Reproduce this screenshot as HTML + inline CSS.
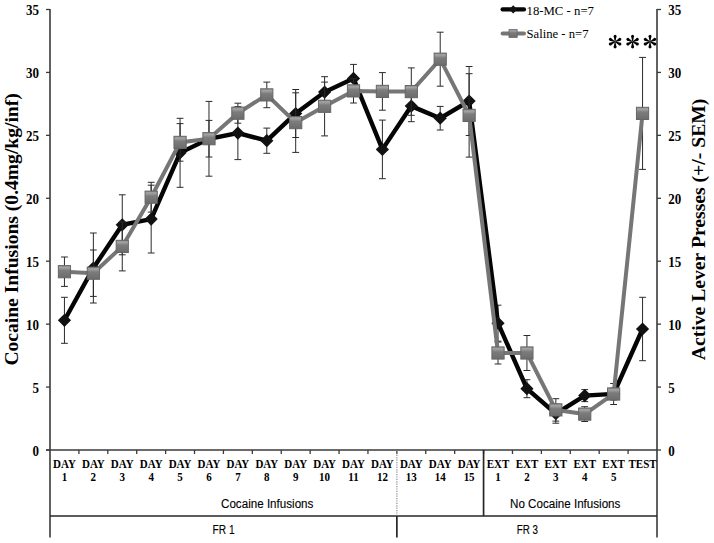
<!DOCTYPE html>
<html><head><meta charset="utf-8"><style>
html,body{margin:0;padding:0;background:#fff;}
body{width:714px;height:543px;overflow:hidden;font-family:"Liberation Serif",serif;}
svg{display:block;}
</style></head><body>
<svg width="714" height="543" viewBox="0 0 714 543" shape-rendering="geometricPrecision">
<defs><linearGradient id="sq" x1="0" y1="0" x2="0" y2="1"><stop offset="0" stop-color="#8a8a8a"/><stop offset="0.15" stop-color="#a4a4a4"/><stop offset="0.4" stop-color="#7c7c7c"/><stop offset="1" stop-color="#6c6c6c"/></linearGradient></defs>
<g stroke="#3a3a3a" stroke-width="1.6" fill="none">
<line x1="50.0" y1="9.0" x2="50.0" y2="537.5"/>
<line x1="657.0" y1="9.0" x2="657.0" y2="537.5"/>
<line x1="46.0" y1="450.0" x2="657.0" y2="450.0"/>
</g>
<g stroke="#3a3a3a" stroke-width="1.3">
<line x1="46.0" y1="450.00" x2="50.0" y2="450.00"/>
<line x1="657.0" y1="450.00" x2="661.0" y2="450.00"/>
<line x1="46.0" y1="387.07" x2="50.0" y2="387.07"/>
<line x1="657.0" y1="387.07" x2="661.0" y2="387.07"/>
<line x1="46.0" y1="324.14" x2="50.0" y2="324.14"/>
<line x1="657.0" y1="324.14" x2="661.0" y2="324.14"/>
<line x1="46.0" y1="261.21" x2="50.0" y2="261.21"/>
<line x1="657.0" y1="261.21" x2="661.0" y2="261.21"/>
<line x1="46.0" y1="198.29" x2="50.0" y2="198.29"/>
<line x1="657.0" y1="198.29" x2="661.0" y2="198.29"/>
<line x1="46.0" y1="135.36" x2="50.0" y2="135.36"/>
<line x1="657.0" y1="135.36" x2="661.0" y2="135.36"/>
<line x1="46.0" y1="72.43" x2="50.0" y2="72.43"/>
<line x1="657.0" y1="72.43" x2="661.0" y2="72.43"/>
<line x1="46.0" y1="9.50" x2="50.0" y2="9.50"/>
<line x1="657.0" y1="9.50" x2="661.0" y2="9.50"/>
<line x1="78.90" y1="450.0" x2="78.90" y2="454.0"/>
<line x1="107.81" y1="450.0" x2="107.81" y2="454.0"/>
<line x1="136.71" y1="450.0" x2="136.71" y2="454.0"/>
<line x1="165.62" y1="450.0" x2="165.62" y2="454.0"/>
<line x1="194.52" y1="450.0" x2="194.52" y2="454.0"/>
<line x1="223.43" y1="450.0" x2="223.43" y2="454.0"/>
<line x1="252.33" y1="450.0" x2="252.33" y2="454.0"/>
<line x1="281.24" y1="450.0" x2="281.24" y2="454.0"/>
<line x1="310.14" y1="450.0" x2="310.14" y2="454.0"/>
<line x1="339.05" y1="450.0" x2="339.05" y2="454.0"/>
<line x1="367.95" y1="450.0" x2="367.95" y2="454.0"/>
<line x1="396.86" y1="450.0" x2="396.86" y2="454.0"/>
<line x1="425.76" y1="450.0" x2="425.76" y2="454.0"/>
<line x1="454.67" y1="450.0" x2="454.67" y2="454.0"/>
<line x1="483.57" y1="450.0" x2="483.57" y2="454.0"/>
<line x1="512.48" y1="450.0" x2="512.48" y2="454.0"/>
<line x1="541.38" y1="450.0" x2="541.38" y2="454.0"/>
<line x1="570.29" y1="450.0" x2="570.29" y2="454.0"/>
<line x1="599.19" y1="450.0" x2="599.19" y2="454.0"/>
<line x1="628.10" y1="450.0" x2="628.10" y2="454.0"/>
</g>
<g stroke="#262626" stroke-width="1.7">
<line x1="50.0" y1="516" x2="657.0" y2="516"/>
<line x1="483.57" y1="450.0" x2="483.57" y2="516"/>
<line x1="396.86" y1="516" x2="396.86" y2="537.5"/>
</g>
<line x1="396.86" y1="450.0" x2="396.86" y2="515.5" stroke="#8a8a8a" stroke-width="1.2" stroke-dasharray="1.2 1.2"/>
<g font-family="Liberation Serif, serif" font-weight="bold" font-size="13" fill="#000">
<text transform="translate(38.9,455.80) scale(1,1.13)" text-anchor="end">0</text>
<text transform="translate(668.2,455.60) scale(1,1.13)">0</text>
<text transform="translate(38.9,392.87) scale(1,1.13)" text-anchor="end">5</text>
<text transform="translate(668.2,392.67) scale(1,1.13)">5</text>
<text transform="translate(38.9,329.94) scale(1,1.13)" text-anchor="end">10</text>
<text transform="translate(668.2,329.74) scale(1,1.13)">10</text>
<text transform="translate(38.9,267.01) scale(1,1.13)" text-anchor="end">15</text>
<text transform="translate(668.2,266.81) scale(1,1.13)">15</text>
<text transform="translate(38.9,204.09) scale(1,1.13)" text-anchor="end">20</text>
<text transform="translate(668.2,203.89) scale(1,1.13)">20</text>
<text transform="translate(38.9,141.16) scale(1,1.13)" text-anchor="end">25</text>
<text transform="translate(668.2,140.96) scale(1,1.13)">25</text>
<text transform="translate(38.9,78.23) scale(1,1.13)" text-anchor="end">30</text>
<text transform="translate(668.2,78.03) scale(1,1.13)">30</text>
<text transform="translate(38.9,15.30) scale(1,1.13)" text-anchor="end">35</text>
<text transform="translate(668.2,15.10) scale(1,1.13)">35</text>
</g>
<g font-family="Liberation Serif, serif" font-weight="bold" font-size="11" fill="#000" text-anchor="middle">
<text transform="translate(64.45,468.0) scale(1,1.07)">DAY</text>
<text transform="translate(64.45,481.3) scale(1,1.07)">1</text>
<text transform="translate(93.36,468.0) scale(1,1.07)">DAY</text>
<text transform="translate(93.36,481.3) scale(1,1.07)">2</text>
<text transform="translate(122.26,468.0) scale(1,1.07)">DAY</text>
<text transform="translate(122.26,481.3) scale(1,1.07)">3</text>
<text transform="translate(151.17,468.0) scale(1,1.07)">DAY</text>
<text transform="translate(151.17,481.3) scale(1,1.07)">4</text>
<text transform="translate(180.07,468.0) scale(1,1.07)">DAY</text>
<text transform="translate(180.07,481.3) scale(1,1.07)">5</text>
<text transform="translate(208.98,468.0) scale(1,1.07)">DAY</text>
<text transform="translate(208.98,481.3) scale(1,1.07)">6</text>
<text transform="translate(237.88,468.0) scale(1,1.07)">DAY</text>
<text transform="translate(237.88,481.3) scale(1,1.07)">7</text>
<text transform="translate(266.79,468.0) scale(1,1.07)">DAY</text>
<text transform="translate(266.79,481.3) scale(1,1.07)">8</text>
<text transform="translate(295.69,468.0) scale(1,1.07)">DAY</text>
<text transform="translate(295.69,481.3) scale(1,1.07)">9</text>
<text transform="translate(324.60,468.0) scale(1,1.07)">DAY</text>
<text transform="translate(324.60,481.3) scale(1,1.07)">10</text>
<text transform="translate(353.50,468.0) scale(1,1.07)">DAY</text>
<text transform="translate(353.50,481.3) scale(1,1.07)">11</text>
<text transform="translate(382.40,468.0) scale(1,1.07)">DAY</text>
<text transform="translate(382.40,481.3) scale(1,1.07)">12</text>
<text transform="translate(411.31,468.0) scale(1,1.07)">DAY</text>
<text transform="translate(411.31,481.3) scale(1,1.07)">13</text>
<text transform="translate(440.21,468.0) scale(1,1.07)">DAY</text>
<text transform="translate(440.21,481.3) scale(1,1.07)">14</text>
<text transform="translate(469.12,468.0) scale(1,1.07)">DAY</text>
<text transform="translate(469.12,481.3) scale(1,1.07)">15</text>
<text transform="translate(498.02,468.0) scale(1,1.07)">EXT</text>
<text transform="translate(498.02,481.3) scale(1,1.07)">1</text>
<text transform="translate(526.93,468.0) scale(1,1.07)">EXT</text>
<text transform="translate(526.93,481.3) scale(1,1.07)">2</text>
<text transform="translate(555.83,468.0) scale(1,1.07)">EXT</text>
<text transform="translate(555.83,481.3) scale(1,1.07)">3</text>
<text transform="translate(584.74,468.0) scale(1,1.07)">EXT</text>
<text transform="translate(584.74,481.3) scale(1,1.07)">4</text>
<text transform="translate(613.64,468.0) scale(1,1.07)">EXT</text>
<text transform="translate(613.64,481.3) scale(1,1.07)">5</text>
<text transform="translate(642.55,468.0) scale(1,1.07)">TEST</text>
</g>
<g font-family="Liberation Sans, sans-serif" font-size="12" fill="#000" stroke="#000" stroke-width="0.12">
<text x="221" y="508" textLength="92.4" lengthAdjust="spacingAndGlyphs">Cocaine Infusions</text>
<text x="510" y="508" textLength="110.4" lengthAdjust="spacingAndGlyphs">No Cocaine Infusions</text>
<text x="212.6" y="534" textLength="22" lengthAdjust="spacingAndGlyphs">FR 1</text>
<text x="516.8" y="534" textLength="21.3" lengthAdjust="spacingAndGlyphs">FR 3</text>
</g>
<text font-family="Liberation Serif, serif" font-weight="bold" font-size="18.5" fill="#000" transform="translate(18.2,365.6) rotate(-90)" textLength="272.4" lengthAdjust="spacingAndGlyphs">Cocaine Infusions (0.4mg/kg/inf)</text>
<text font-family="Liberation Serif, serif" font-weight="bold" font-size="18" fill="#000" transform="translate(704.6,360.2) rotate(-90)" textLength="261.6" lengthAdjust="spacingAndGlyphs">Active Lever Presses (+/- SEM)</text>
<g stroke="#2a2a2a" stroke-width="1">
<line x1="64.45" y1="297.30" x2="64.45" y2="343.30"/>
<line x1="61.05" y1="297.30" x2="67.85" y2="297.30"/>
<line x1="61.05" y1="343.30" x2="67.85" y2="343.30"/>
<line x1="93.36" y1="233.00" x2="93.36" y2="303.00"/>
<line x1="89.96" y1="233.00" x2="96.76" y2="233.00"/>
<line x1="89.96" y1="303.00" x2="96.76" y2="303.00"/>
<line x1="122.26" y1="194.80" x2="122.26" y2="254.80"/>
<line x1="118.86" y1="194.80" x2="125.66" y2="194.80"/>
<line x1="118.86" y1="254.80" x2="125.66" y2="254.80"/>
<line x1="151.17" y1="185.20" x2="151.17" y2="253.00"/>
<line x1="147.77" y1="185.20" x2="154.57" y2="185.20"/>
<line x1="147.77" y1="253.00" x2="154.57" y2="253.00"/>
<line x1="180.07" y1="118.30" x2="180.07" y2="187.30"/>
<line x1="176.67" y1="118.30" x2="183.47" y2="118.30"/>
<line x1="176.67" y1="187.30" x2="183.47" y2="187.30"/>
<line x1="208.98" y1="101.40" x2="208.98" y2="176.20"/>
<line x1="205.58" y1="101.40" x2="212.38" y2="101.40"/>
<line x1="205.58" y1="176.20" x2="212.38" y2="176.20"/>
<line x1="237.88" y1="106.60" x2="237.88" y2="159.60"/>
<line x1="234.48" y1="106.60" x2="241.28" y2="106.60"/>
<line x1="234.48" y1="159.60" x2="241.28" y2="159.60"/>
<line x1="266.79" y1="128.10" x2="266.79" y2="153.30"/>
<line x1="263.39" y1="128.10" x2="270.19" y2="128.10"/>
<line x1="263.39" y1="153.30" x2="270.19" y2="153.30"/>
<line x1="295.69" y1="89.50" x2="295.69" y2="137.50"/>
<line x1="292.29" y1="89.50" x2="299.09" y2="89.50"/>
<line x1="292.29" y1="137.50" x2="299.09" y2="137.50"/>
<line x1="324.60" y1="82.10" x2="324.60" y2="102.10"/>
<line x1="321.20" y1="82.10" x2="328.00" y2="82.10"/>
<line x1="321.20" y1="102.10" x2="328.00" y2="102.10"/>
<line x1="353.50" y1="64.40" x2="353.50" y2="92.40"/>
<line x1="350.10" y1="64.40" x2="356.90" y2="64.40"/>
<line x1="350.10" y1="92.40" x2="356.90" y2="92.40"/>
<line x1="382.40" y1="120.10" x2="382.40" y2="178.70"/>
<line x1="379.00" y1="120.10" x2="385.80" y2="120.10"/>
<line x1="379.00" y1="178.70" x2="385.80" y2="178.70"/>
<line x1="411.31" y1="90.50" x2="411.31" y2="121.70"/>
<line x1="407.91" y1="90.50" x2="414.71" y2="90.50"/>
<line x1="407.91" y1="121.70" x2="414.71" y2="121.70"/>
<line x1="440.21" y1="106.40" x2="440.21" y2="130.00"/>
<line x1="436.81" y1="106.40" x2="443.61" y2="106.40"/>
<line x1="436.81" y1="130.00" x2="443.61" y2="130.00"/>
<line x1="469.12" y1="66.50" x2="469.12" y2="135.50"/>
<line x1="465.72" y1="66.50" x2="472.52" y2="66.50"/>
<line x1="465.72" y1="135.50" x2="472.52" y2="135.50"/>
<line x1="498.02" y1="305.20" x2="498.02" y2="341.20"/>
<line x1="494.62" y1="305.20" x2="501.42" y2="305.20"/>
<line x1="494.62" y1="341.20" x2="501.42" y2="341.20"/>
<line x1="526.93" y1="379.70" x2="526.93" y2="397.70"/>
<line x1="523.53" y1="379.70" x2="530.33" y2="379.70"/>
<line x1="523.53" y1="397.70" x2="530.33" y2="397.70"/>
<line x1="555.83" y1="404.20" x2="555.83" y2="423.20"/>
<line x1="552.43" y1="404.20" x2="559.23" y2="404.20"/>
<line x1="552.43" y1="423.20" x2="559.23" y2="423.20"/>
<line x1="584.74" y1="389.60" x2="584.74" y2="401.60"/>
<line x1="581.34" y1="389.60" x2="588.14" y2="389.60"/>
<line x1="581.34" y1="401.60" x2="588.14" y2="401.60"/>
<line x1="613.64" y1="388.00" x2="613.64" y2="400.00"/>
<line x1="610.24" y1="388.00" x2="617.04" y2="388.00"/>
<line x1="610.24" y1="400.00" x2="617.04" y2="400.00"/>
<line x1="642.55" y1="297.30" x2="642.55" y2="360.70"/>
<line x1="639.15" y1="297.30" x2="645.95" y2="297.30"/>
<line x1="639.15" y1="360.70" x2="645.95" y2="360.70"/>
</g>
<polyline points="64.45,320.30 93.36,268.00 122.26,224.80 151.17,219.10 180.07,152.80 208.98,138.80 237.88,133.10 266.79,140.70 295.69,113.50 324.60,92.10 353.50,78.40 382.40,149.40 411.31,106.10 440.21,118.20 469.12,101.00 498.02,323.20 526.93,388.70 555.83,413.70 584.74,395.60 613.64,394.00 642.55,329.00" fill="none" stroke="#050505" stroke-width="4.4" stroke-linejoin="miter" stroke-miterlimit="3"/>
<path d="M64.45,313.70L71.05,320.30L64.45,326.90L57.85,320.30Z" fill="#111"/>
<path d="M93.36,261.40L99.96,268.00L93.36,274.60L86.76,268.00Z" fill="#111"/>
<path d="M122.26,218.20L128.86,224.80L122.26,231.40L115.66,224.80Z" fill="#111"/>
<path d="M151.17,212.50L157.77,219.10L151.17,225.70L144.57,219.10Z" fill="#111"/>
<path d="M180.07,146.20L186.67,152.80L180.07,159.40L173.47,152.80Z" fill="#111"/>
<path d="M208.98,132.20L215.58,138.80L208.98,145.40L202.38,138.80Z" fill="#111"/>
<path d="M237.88,126.50L244.48,133.10L237.88,139.70L231.28,133.10Z" fill="#111"/>
<path d="M266.79,134.10L273.39,140.70L266.79,147.30L260.19,140.70Z" fill="#111"/>
<path d="M295.69,106.90L302.29,113.50L295.69,120.10L289.09,113.50Z" fill="#111"/>
<path d="M324.60,85.50L331.20,92.10L324.60,98.70L318.00,92.10Z" fill="#111"/>
<path d="M353.50,71.80L360.10,78.40L353.50,85.00L346.90,78.40Z" fill="#111"/>
<path d="M382.40,142.80L389.00,149.40L382.40,156.00L375.80,149.40Z" fill="#111"/>
<path d="M411.31,99.50L417.91,106.10L411.31,112.70L404.71,106.10Z" fill="#111"/>
<path d="M440.21,111.60L446.81,118.20L440.21,124.80L433.61,118.20Z" fill="#111"/>
<path d="M469.12,94.40L475.72,101.00L469.12,107.60L462.52,101.00Z" fill="#111"/>
<path d="M498.02,316.60L504.62,323.20L498.02,329.80L491.42,323.20Z" fill="#111"/>
<path d="M526.93,382.10L533.53,388.70L526.93,395.30L520.33,388.70Z" fill="#111"/>
<path d="M555.83,407.10L562.43,413.70L555.83,420.30L549.23,413.70Z" fill="#111"/>
<path d="M584.74,389.00L591.34,395.60L584.74,402.20L578.14,395.60Z" fill="#111"/>
<path d="M613.64,387.40L620.24,394.00L613.64,400.60L607.04,394.00Z" fill="#111"/>
<path d="M642.55,322.40L649.15,329.00L642.55,335.60L635.95,329.00Z" fill="#111"/>
<g stroke="#2a2a2a" stroke-width="1">
<line x1="64.45" y1="257.00" x2="64.45" y2="286.40"/>
<line x1="61.05" y1="257.00" x2="67.85" y2="257.00"/>
<line x1="61.05" y1="286.40" x2="67.85" y2="286.40"/>
<line x1="93.36" y1="250.00" x2="93.36" y2="296.40"/>
<line x1="89.96" y1="250.00" x2="96.76" y2="250.00"/>
<line x1="89.96" y1="296.40" x2="96.76" y2="296.40"/>
<line x1="122.26" y1="221.90" x2="122.26" y2="270.90"/>
<line x1="118.86" y1="221.90" x2="125.66" y2="221.90"/>
<line x1="118.86" y1="270.90" x2="125.66" y2="270.90"/>
<line x1="151.17" y1="182.30" x2="151.17" y2="212.10"/>
<line x1="147.77" y1="182.30" x2="154.57" y2="182.30"/>
<line x1="147.77" y1="212.10" x2="154.57" y2="212.10"/>
<line x1="180.07" y1="123.60" x2="180.07" y2="161.20"/>
<line x1="176.67" y1="123.60" x2="183.47" y2="123.60"/>
<line x1="176.67" y1="161.20" x2="183.47" y2="161.20"/>
<line x1="208.98" y1="120.40" x2="208.98" y2="157.00"/>
<line x1="205.58" y1="120.40" x2="212.38" y2="120.40"/>
<line x1="205.58" y1="157.00" x2="212.38" y2="157.00"/>
<line x1="237.88" y1="103.20" x2="237.88" y2="123.20"/>
<line x1="234.48" y1="103.20" x2="241.28" y2="103.20"/>
<line x1="234.48" y1="123.20" x2="241.28" y2="123.20"/>
<line x1="266.79" y1="82.10" x2="266.79" y2="107.70"/>
<line x1="263.39" y1="82.10" x2="270.19" y2="82.10"/>
<line x1="263.39" y1="107.70" x2="270.19" y2="107.70"/>
<line x1="295.69" y1="92.80" x2="295.69" y2="152.40"/>
<line x1="292.29" y1="92.80" x2="299.09" y2="92.80"/>
<line x1="292.29" y1="152.40" x2="299.09" y2="152.40"/>
<line x1="324.60" y1="76.70" x2="324.60" y2="135.90"/>
<line x1="321.20" y1="76.70" x2="328.00" y2="76.70"/>
<line x1="321.20" y1="135.90" x2="328.00" y2="135.90"/>
<line x1="353.50" y1="78.80" x2="353.50" y2="103.00"/>
<line x1="350.10" y1="78.80" x2="356.90" y2="78.80"/>
<line x1="350.10" y1="103.00" x2="356.90" y2="103.00"/>
<line x1="382.40" y1="72.60" x2="382.40" y2="110.20"/>
<line x1="379.00" y1="72.60" x2="385.80" y2="72.60"/>
<line x1="379.00" y1="110.20" x2="385.80" y2="110.20"/>
<line x1="411.31" y1="67.90" x2="411.31" y2="115.30"/>
<line x1="407.91" y1="67.90" x2="414.71" y2="67.90"/>
<line x1="407.91" y1="115.30" x2="414.71" y2="115.30"/>
<line x1="440.21" y1="32.20" x2="440.21" y2="86.20"/>
<line x1="436.81" y1="32.20" x2="443.61" y2="32.20"/>
<line x1="436.81" y1="86.20" x2="443.61" y2="86.20"/>
<line x1="469.12" y1="73.70" x2="469.12" y2="157.10"/>
<line x1="465.72" y1="73.70" x2="472.52" y2="73.70"/>
<line x1="465.72" y1="157.10" x2="472.52" y2="157.10"/>
<line x1="498.02" y1="342.00" x2="498.02" y2="364.00"/>
<line x1="494.62" y1="342.00" x2="501.42" y2="342.00"/>
<line x1="494.62" y1="364.00" x2="501.42" y2="364.00"/>
<line x1="526.93" y1="335.50" x2="526.93" y2="370.50"/>
<line x1="523.53" y1="335.50" x2="530.33" y2="335.50"/>
<line x1="523.53" y1="370.50" x2="530.33" y2="370.50"/>
<line x1="555.83" y1="398.70" x2="555.83" y2="421.10"/>
<line x1="552.43" y1="398.70" x2="559.23" y2="398.70"/>
<line x1="552.43" y1="421.10" x2="559.23" y2="421.10"/>
<line x1="584.74" y1="406.70" x2="584.74" y2="421.50"/>
<line x1="581.34" y1="406.70" x2="588.14" y2="406.70"/>
<line x1="581.34" y1="421.50" x2="588.14" y2="421.50"/>
<line x1="613.64" y1="383.50" x2="613.64" y2="404.50"/>
<line x1="610.24" y1="383.50" x2="617.04" y2="383.50"/>
<line x1="610.24" y1="404.50" x2="617.04" y2="404.50"/>
<line x1="642.55" y1="57.40" x2="642.55" y2="169.40"/>
<line x1="639.15" y1="57.40" x2="645.95" y2="57.40"/>
<line x1="639.15" y1="169.40" x2="645.95" y2="169.40"/>
</g>
<polyline points="64.45,271.70 93.36,273.20 122.26,246.40 151.17,197.20 180.07,142.40 208.98,138.70 237.88,113.20 266.79,94.90 295.69,122.60 324.60,106.30 353.50,90.90 382.40,91.40 411.31,91.60 440.21,59.20 469.12,115.40 498.02,353.00 526.93,353.00 555.83,409.90 584.74,414.10 613.64,394.00 642.55,113.40" fill="none" stroke="#767676" stroke-width="4.0" stroke-linejoin="miter" stroke-miterlimit="3"/>
<rect x="58.35" y="265.60" width="12.20" height="12.20" fill="url(#sq)" stroke="#666" stroke-width="1"/>
<rect x="87.26" y="267.10" width="12.20" height="12.20" fill="url(#sq)" stroke="#666" stroke-width="1"/>
<rect x="116.16" y="240.30" width="12.20" height="12.20" fill="url(#sq)" stroke="#666" stroke-width="1"/>
<rect x="145.07" y="191.10" width="12.20" height="12.20" fill="url(#sq)" stroke="#666" stroke-width="1"/>
<rect x="173.97" y="136.30" width="12.20" height="12.20" fill="url(#sq)" stroke="#666" stroke-width="1"/>
<rect x="202.88" y="132.60" width="12.20" height="12.20" fill="url(#sq)" stroke="#666" stroke-width="1"/>
<rect x="231.78" y="107.10" width="12.20" height="12.20" fill="url(#sq)" stroke="#666" stroke-width="1"/>
<rect x="260.69" y="88.80" width="12.20" height="12.20" fill="url(#sq)" stroke="#666" stroke-width="1"/>
<rect x="289.59" y="116.50" width="12.20" height="12.20" fill="url(#sq)" stroke="#666" stroke-width="1"/>
<rect x="318.50" y="100.20" width="12.20" height="12.20" fill="url(#sq)" stroke="#666" stroke-width="1"/>
<rect x="347.40" y="84.80" width="12.20" height="12.20" fill="url(#sq)" stroke="#666" stroke-width="1"/>
<rect x="376.30" y="85.30" width="12.20" height="12.20" fill="url(#sq)" stroke="#666" stroke-width="1"/>
<rect x="405.21" y="85.50" width="12.20" height="12.20" fill="url(#sq)" stroke="#666" stroke-width="1"/>
<rect x="434.11" y="53.10" width="12.20" height="12.20" fill="url(#sq)" stroke="#666" stroke-width="1"/>
<rect x="463.02" y="109.30" width="12.20" height="12.20" fill="url(#sq)" stroke="#666" stroke-width="1"/>
<rect x="491.92" y="346.90" width="12.20" height="12.20" fill="url(#sq)" stroke="#666" stroke-width="1"/>
<rect x="520.83" y="346.90" width="12.20" height="12.20" fill="url(#sq)" stroke="#666" stroke-width="1"/>
<rect x="549.73" y="403.80" width="12.20" height="12.20" fill="url(#sq)" stroke="#666" stroke-width="1"/>
<rect x="578.64" y="408.00" width="12.20" height="12.20" fill="url(#sq)" stroke="#666" stroke-width="1"/>
<rect x="607.54" y="387.90" width="12.20" height="12.20" fill="url(#sq)" stroke="#666" stroke-width="1"/>
<rect x="636.45" y="107.30" width="12.20" height="12.20" fill="url(#sq)" stroke="#666" stroke-width="1"/>
<line x1="502.6" y1="9.4" x2="524" y2="9.4" stroke="#050505" stroke-width="4.2" stroke-linecap="round"/>
<path d="M513.2,5.3L517.2,9.4L513.2,13.5L509.2,9.4Z" fill="#111"/>
<line x1="502.6" y1="33.6" x2="524" y2="33.6" stroke="#767676" stroke-width="4" stroke-linecap="round"/>
<rect x="509" y="29.6" width="8.2" height="7.8" fill="url(#sq)" stroke="#666" stroke-width="0.8"/>
<g font-family="Liberation Serif, serif" font-size="13" fill="#000">
<text x="526.5" y="15.4" textLength="67.5" lengthAdjust="spacingAndGlyphs">18-MC - n=7</text>
<text x="526.5" y="38.4" textLength="62" lengthAdjust="spacingAndGlyphs">Saline - n=7</text>
</g>
<defs><g id="ast"><path d="M-0.35,-0.3L-1.25,-4.35A1.55,1.55 0 1 1 1.25,-4.35L0.35,-0.3Z" transform="rotate(0)"/><path d="M-0.35,-0.3L-1.25,-4.35A1.55,1.55 0 1 1 1.25,-4.35L0.35,-0.3Z" transform="rotate(64)"/><path d="M-0.35,-0.3L-1.25,-4.35A1.55,1.55 0 1 1 1.25,-4.35L0.35,-0.3Z" transform="rotate(116)"/><path d="M-0.35,-0.3L-1.25,-4.35A1.55,1.55 0 1 1 1.25,-4.35L0.35,-0.3Z" transform="rotate(180)"/><path d="M-0.35,-0.3L-1.25,-4.35A1.55,1.55 0 1 1 1.25,-4.35L0.35,-0.3Z" transform="rotate(244)"/><path d="M-0.35,-0.3L-1.25,-4.35A1.55,1.55 0 1 1 1.25,-4.35L0.35,-0.3Z" transform="rotate(296)"/></g></defs>
<g fill="#000">
<use href="#ast" x="615.1" y="41.7"/>
<use href="#ast" x="632.6" y="41.7"/>
<use href="#ast" x="650.0" y="41.7"/>
</g>
</svg>
</body></html>
